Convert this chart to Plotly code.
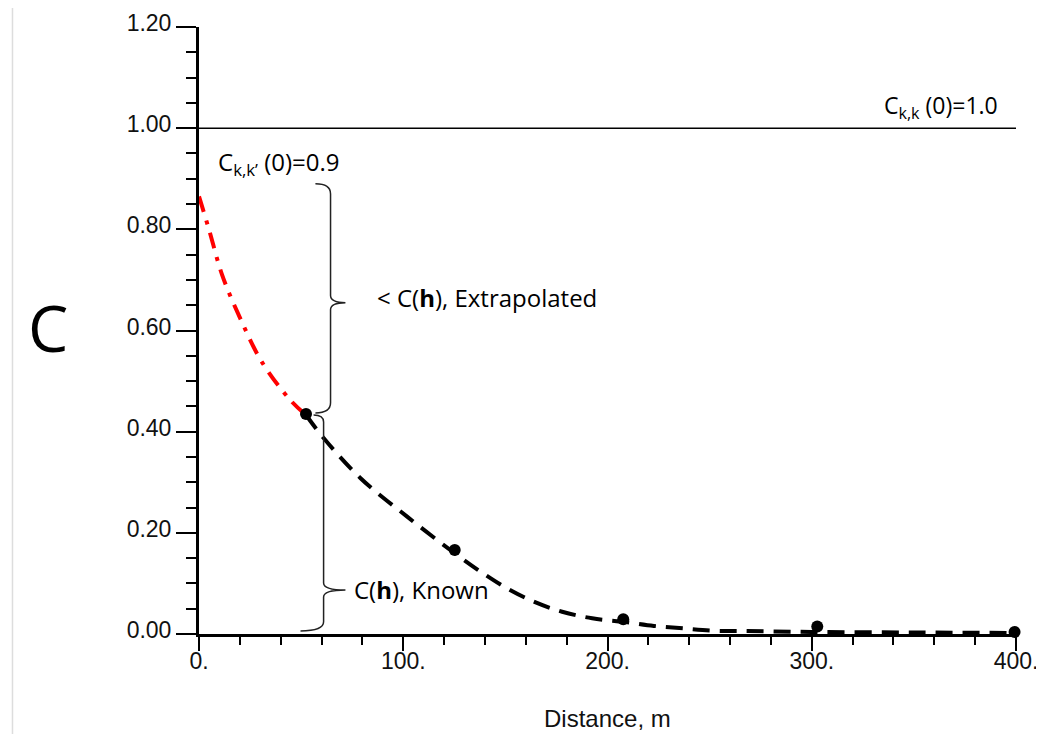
import plotly.graph_objects as go

# ---- data ----
red_x = [0, 4.8, 11.4, 20.3, 30.9, 44.8, 52.4]
red_y = [0.865, 0.801, 0.709, 0.623, 0.537, 0.462, 0.433]

black_x = [52.4, 61.1, 79.1, 101.9, 126.4, 138.7, 150.9, 163.9, 177.8, 192.5,
           208.0, 222.7, 237.4, 252.0, 267.6, 300.0, 350.0, 400.0]
black_y = [0.433, 0.387, 0.308, 0.232, 0.156, 0.121, 0.090, 0.064, 0.044, 0.031,
           0.024, 0.016, 0.011, 0.0065, 0.006, 0.004, 0.003, 0.002]

pts_x = [52.4, 125.2, 207.7, 302.7, 399.3]
pts_y = [0.435, 0.166, 0.029, 0.015, 0.004]

sill_x = [0, 400]
sill_y = [1.0, 1.0]

x_tickvals = [0, 100, 200, 300, 400]
x_ticktext = ["0.", "100.", "200.", "300.", "400."]
y_tickvals = [0.0, 0.2, 0.4, 0.6, 0.8, 1.0, 1.2]

ann_font = "Open Sans, Noto Sans, sans-serif"
axis_font = "Liberation Sans, Arial, sans-serif"

fig = go.Figure()

fig.add_trace(go.Scatter(x=sill_x, y=sill_y, mode="lines",
                         line=dict(color="black", width=1.5),
                         hoverinfo="skip", showlegend=False))
fig.add_trace(go.Scatter(x=red_x, y=red_y, mode="lines",
                         line=dict(color="#ff0000", width=4, dash="16px,9px,4px,9px",
                                   shape="spline"),
                         showlegend=False))
fig.add_trace(go.Scatter(x=black_x, y=black_y, mode="lines",
                         line=dict(color="black", width=4, dash="17px,10px",
                                   shape="spline"),
                         showlegend=False))
fig.add_trace(go.Scatter(x=pts_x, y=pts_y, mode="markers",
                         marker=dict(color="black", size=12),
                         cliponaxis=False, showlegend=False))

brace_line = dict(color="#222222", width=1.5)
# upper brace (extrapolated)
fig.add_shape(type="path", xref="x", yref="y", line=brace_line,
              path="M 57.0,0.890 Q 64.4,0.890 64.4,0.870 L 64.4,0.669 "
                   "Q 64.4,0.655 71.7,0.655 Q 64.4,0.655 64.4,0.641 "
                   "L 64.4,0.457 Q 64.4,0.437 57.0,0.437")
# lower brace (known)
fig.add_shape(type="path", xref="x", yref="y", line=brace_line,
              path="M 56.1,0.433 Q 61.0,0.433 61.0,0.419 L 61.0,0.101 "
                   "Q 61.0,0.087 71.7,0.087 Q 61.0,0.087 61.0,0.073 "
                   "L 61.0,0.024 Q 61.0,0.006 49.7,0.006")
# faint left frame edge
fig.add_shape(type="line", xref="paper", yref="paper",
              x0=-0.2283, x1=-0.2283, y0=-0.3, y1=1.1,
              line=dict(color="#dddddd", width=1.5))

fig.add_annotation(x=392.4, y=1.005, xref="x", yref="y", xanchor="right", yanchor="bottom",
                   text="C<sub>k,k</sub> (0)=1.0", showarrow=False,
                   font=dict(family=ann_font, size=23, color="black"))
fig.add_annotation(x=8.5, y=0.931, xref="x", yref="y", xanchor="left", yanchor="middle",
                   text="C<sub>k,k’</sub> (0)=0.9", showarrow=False,
                   font=dict(family=ann_font, size=24, color="black"))
fig.add_annotation(x=86.0, y=0.665, xref="x", yref="y", xanchor="left", yanchor="middle",
                   text="< C(<b>h</b>), Extrapolated", showarrow=False,
                   font=dict(family=ann_font, size=24, color="black"))
fig.add_annotation(x=75.0, y=0.087, xref="x", yref="y", xanchor="left", yanchor="middle",
                   text="C(<b>h</b>), Known", showarrow=False,
                   font=dict(family=ann_font, size=24, color="black"))
fig.add_annotation(x=-0.185, y=0.505, xref="paper", yref="paper", xanchor="center",
                   yanchor="middle", text="C", showarrow=False,
                   font=dict(family=ann_font, size=64, color="black"))
fig.add_annotation(x=0.5, y=-0.1384, xref="paper", yref="paper", xanchor="center",
                   yanchor="middle", text="Distance, m", showarrow=False,
                   font=dict(family=axis_font, size=24, color="#111111"))

fig.update_xaxes(range=[0, 400], showline=True, linecolor="black", linewidth=3,
                 showgrid=False, zeroline=False, ticks="outside", ticklen=14,
                 tickwidth=2, tickcolor="black", automargin=False,
                 tickvals=x_tickvals, ticktext=x_ticktext,
                 minor=dict(dtick=20, tick0=0, ticks="outside", ticklen=8,
                            tickwidth=2, tickcolor="black", showgrid=False),
                 tickfont=dict(family=axis_font, size=23, color="#111111"))
try:
    fig.update_xaxes(ticklabelstandoff=-10)
except Exception:
    fig.update_xaxes(ticklen=6)
fig.update_yaxes(range=[0, 1.2], showline=True, linecolor="black", linewidth=3,
                 showgrid=False, zeroline=False, ticks="outside", ticklen=20,
                 tickwidth=2, tickcolor="black", automargin=False,
                 tickvals=y_tickvals, tickformat=".2f", ticklabelshift=-4,
                 minor=dict(dtick=0.05, tick0=0, ticks="outside", ticklen=10,
                            tickwidth=2, tickcolor="black", showgrid=False),
                 tickfont=dict(family=axis_font, size=23, color="#111111"))

# the page adds an 8 px body margin, so the figure is sized to fit the window
fig.update_layout(width=1036, height=726, paper_bgcolor="white", plot_bgcolor="white",
                  margin=dict(l=191, r=28, t=19, b=100), showlegend=False)

fig.write_html("out.html")
